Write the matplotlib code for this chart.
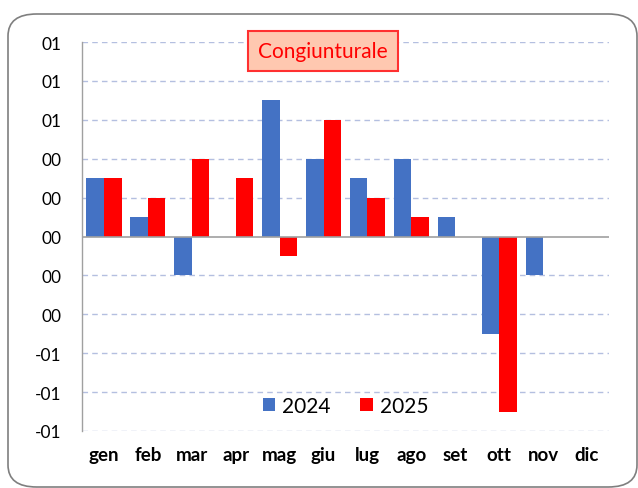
import matplotlib
matplotlib.use("Agg")
import matplotlib.pyplot as plt
from matplotlib.patches import FancyBboxPatch
import numpy as np

months = ["gen", "feb", "mar", "apr", "mag", "giu", "lug", "ago", "set", "ott", "nov", "dic"]
s2024 = [0.3, 0.1, -0.2, 0.0, 0.7, 0.4, 0.3, 0.4, 0.1, -0.5, -0.2, np.nan]
s2025 = [0.3, 0.2, 0.4, 0.3, -0.1, 0.6, 0.2, 0.1, np.nan, -0.9, np.nan, np.nan]
yticks = [-1.0, -0.8, -0.6, -0.4, -0.2, 0.0, 0.2, 0.4, 0.6, 0.8, 1.0]
ytick_labels = ["-01", "-01", "-01", "00", "00", "00", "00", "00", "01", "01", "01"]
title = "Congiunturale"

plt.rcParams['font.family'] = ['Lato', 'DejaVu Sans']

fig = plt.figure(figsize=(6.38, 4.89), dpi=100)
frame = FancyBboxPatch((8/638, 1-488/489), (637-8)/638, (488-15)/489,
                       boxstyle="round,pad=0,rounding_size=0.045",
                       transform=fig.transFigure, facecolor="none",
                       edgecolor="#7f7f7f", linewidth=1.2, zorder=-1)
fig.patches.append(frame)

ax = fig.add_axes([82/638, 1-432/489, (609-82)/638, (432-43)/489])
ax.set_facecolor("none")
x = np.arange(len(months))
w = 0.4
ax.bar(x - w/2, s2024, width=w, color="#4472C4", label="2024", zorder=3)
ax.bar(x + w/2, s2025, width=w, color="#FF0000", label="2025", zorder=3)

ax.set_xlim(-0.5, len(months) - 0.5)
ax.set_ylim(-1.0, 1.0)
ax.set_yticks(yticks)
ax.set_yticklabels(ytick_labels, fontsize=12.5, color="#000000")
ax.set_xticks(x)
ax.set_xticklabels(months, fontsize=13.5, fontweight="bold")
ax.tick_params(axis="both", length=0)
ax.tick_params(axis="y", pad=15)
ax.tick_params(axis="x", pad=11)

for yv in yticks:
    if yv != 0:
        ax.axhline(yv, color="#B4BFE0", linestyle=(0, (4, 3)), linewidth=1.0, zorder=1)
ax.axhline(0, color="#A0A0A0", linewidth=1.2, zorder=4)

for s in ["top", "right", "bottom"]:
    ax.spines[s].set_visible(False)
ax.spines["left"].set_color("#A0A0A0")
ax.spines["left"].set_linewidth(1.0)

leg = ax.legend(loc="lower center", bbox_to_anchor=(0.5, -0.01), ncol=2, frameon=False,
                fontsize=15, handlelength=0.6, handleheight=0.6, handletextpad=0.35,
                columnspacing=1.4)

ax.text(0.457, 0.977, title, transform=ax.transAxes, ha="center", va="center",
        fontsize=15, color="#FF0000", zorder=6,
        bbox=dict(boxstyle="square,pad=0.5", facecolor="#FFC8B0", edgecolor="#FF3030", linewidth=1.5))

fig.savefig("out.png", dpi=100)
